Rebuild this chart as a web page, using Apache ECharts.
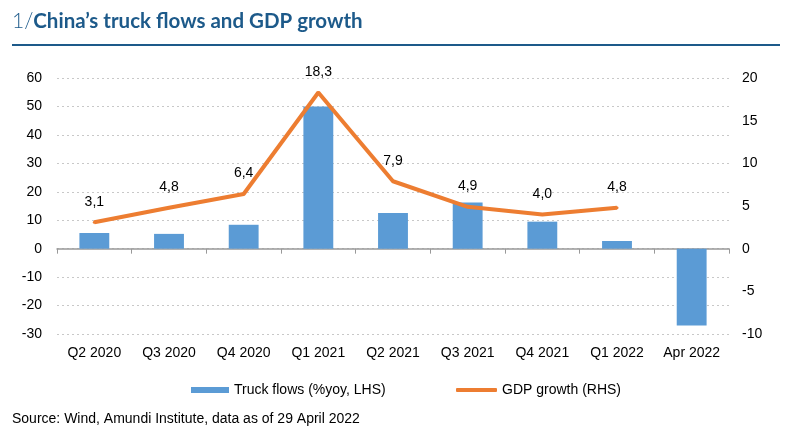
<!DOCTYPE html>
<html><head><meta charset="utf-8">
<script src="https://cdn.jsdelivr.net/npm/echarts@6/dist/echarts.min.js"></script>
<style>html,body{margin:0;padding:0;background:#fff}#c{width:800px;height:448px}</style>
</head><body><div id="c"></div>
<script>
const categories = ['Q2 2020','Q3 2020','Q4 2020','Q1 2021','Q2 2021','Q3 2021','Q4 2021','Q1 2022','Apr 2022'];
const truckFlows = [5.5, 5.2, 8.4, 50.0, 12.5, 16.2, 9.5, 2.7, -27.0];
const gdpGrowth = [3.1, 4.8, 6.4, 18.3, 7.9, 4.9, 4.0, 4.8, null];
const leftTicks = {min: -30, max: 60, interval: 10};
const rightTicks = {min: -10, max: 20, interval: 5};

const FONT = '"Liberation Sans", Arial, sans-serif';
const FS = 14;
const chart = echarts.init(document.getElementById('c'), null, {renderer: 'canvas'});
chart.setOption({
  animation: false,
  backgroundColor: '#fff',
  textStyle: {fontFamily: FONT},
  graphic: [
    {type: 'text', left: 12, top: 11, style: {
      text: '{a|1/}{b|China\u2019s truck flows and GDP growth}',
      rich: {
        a: {fontFamily: 'Lato', fontWeight: 300, fontSize: 21, fill: '#1d5a8a'},
        b: {fontFamily: 'Lato', fontWeight: 'bold', fontSize: 20.5, fill: '#1d5a8a'}
      }
    }},
    {type: 'line', shape: {x1: 12, y1: 45, x2: 780, y2: 45}, style: {stroke: '#1d5a8a', lineWidth: 2}},
    {type: 'text', left: 12, top: 412, style: {text: 'Source: Wind, Amundi Institute, data as of 29 April 2022', fontFamily: FONT, fontSize: 14, fill: '#000'}}
  ],
  legend: [
    {left: 186, top: 378, itemWidth: 38, itemHeight: 6, itemGap: 5,
     textStyle: {fontFamily: FONT, fontSize: FS, color: '#000'},
     data: [{name: 'Truck flows (%yoy, LHS)', icon: 'rect'}]},
    {left: 451, top: 378, itemWidth: 41, itemHeight: 4,
     textStyle: {fontFamily: FONT, fontSize: FS, color: '#000'},
     data: [{name: 'GDP growth (RHS)', icon: 'roundRect'}]}
  ],
  grid: {left: 57, right: 71, top: 78, bottom: 114, containLabel: false},
  xAxis: [
    {type: 'category', data: categories, boundaryGap: true,
     axisLine: {onZero: true, lineStyle: {color: '#999', width: 1.5}},
     axisTick: {show: true, length: 5, interval: 0, lineStyle: {color: '#999'}},
     axisLabel: {show: false}, splitLine: {show: false}},
    {type: 'category', data: categories, boundaryGap: true, position: 'bottom',
     axisLine: {show: false, onZero: false}, axisTick: {show: false},
     axisLabel: {show: true, interval: 0, margin: 12, fontFamily: FONT, fontSize: FS, color: '#000'}}
  ],
  yAxis: [
    {type: 'value', min: leftTicks.min, max: leftTicks.max, interval: leftTicks.interval,
     axisLine: {show: false}, axisTick: {show: false},
     axisLabel: {margin: 15, fontFamily: FONT, fontSize: FS, color: '#000'},
     splitLine: {show: true, lineStyle: {color: '#c8c8c8', type: [2, 3], width: 1}}},
    {type: 'value', min: rightTicks.min, max: rightTicks.max, interval: rightTicks.interval,
     axisLine: {show: false}, axisTick: {show: false},
     axisLabel: {margin: 13, fontFamily: FONT, fontSize: FS, color: '#000'},
     splitLine: {show: false}}
  ],
  series: [
    {name: 'Truck flows (%yoy, LHS)', type: 'bar', xAxisIndex: 0, yAxisIndex: 0, data: truckFlows,
     barWidth: '40%', itemStyle: {color: '#5b9bd5'}, z: 2},
    {name: 'GDP growth (RHS)', type: 'line', xAxisIndex: 0, yAxisIndex: 1, data: gdpGrowth,
     showSymbol: true, symbol: 'circle', symbolSize: 3, lineStyle: {color: '#ed7d31', width: 4}, itemStyle: {color: '#ed7d31'},
     label: {show: true, position: 'top', distance: 12, fontFamily: FONT, fontSize: FS, color: '#000',
       formatter: p => p.value == null ? '' : Number(p.value).toFixed(1).replace('.', ',')},
     z: 3}
  ]
});
</script></body></html>
